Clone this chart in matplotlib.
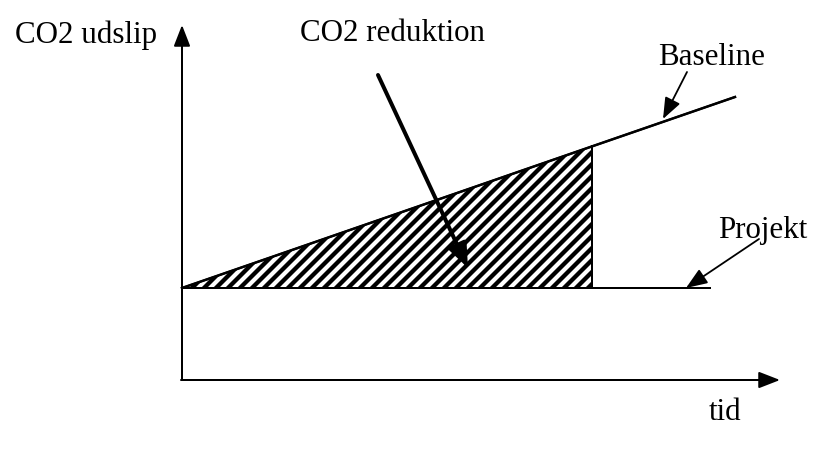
import numpy as np
import matplotlib.pyplot as plt

# diagram values (pixel-like units, y grows downwards)
origin = [182, 380]
y_axis_top = 25
x_axis_end = 780
baseline_x = [182, 735]
baseline_y = [288, 97]
projekt_x = [182, 710]
projekt_y = [288, 288]
cut_x = 592

labels = ["CO2 udslip", "CO2 reduktion", "Baseline", "Projekt", "tid"]
label_pos = [(86, 43), (393, 41), (712, 65), (763, 238), (725, 420)]
pointers = [((378, 75), (468, 268)), ((687, 72), (663, 119)), ((759, 239), (686, 288))]

plt.rcParams['font.family'] = ['Liberation Serif', 'DejaVu Serif']
plt.rcParams['hatch.linewidth'] = 4.3

fig = plt.figure(figsize=(823 / 72, 449 / 72), dpi=72)
ax = fig.add_axes([0, 0, 1, 1])
ax.set_xlim(0, 823)
ax.set_ylim(449, 0)
ax.axis('off')

# axes with arrow heads
head = dict(arrowstyle='-|>,head_length=0.9,head_width=0.35', color='black', lw=2,
            mutation_scale=20, shrinkA=0, shrinkB=0)
ax.annotate('', xy=(origin[0], y_axis_top), xytext=(origin[0], origin[1]), arrowprops=head)
ax.annotate('', xy=(x_axis_end, origin[1]), xytext=(origin[0] - 1, origin[1]), arrowprops=head)

# baseline and project lines
ax.plot(baseline_x, baseline_y, color='black', lw=2)
ax.plot(projekt_x, projekt_y, color='black', lw=2)

# reduction area
slope = (baseline_y[1] - baseline_y[0]) / (baseline_x[1] - baseline_x[0])
xs = np.array([baseline_x[0], cut_x])
top = baseline_y[0] + slope * (xs - baseline_x[0])
ax.fill_between(xs, top, projekt_y[0], facecolor='white', edgecolor='black',
                hatch='//', lw=0)
ax.plot([cut_x, cut_x], [top[1], projekt_y[0]], color='black', lw=2)
ax.plot(baseline_x, baseline_y, color='black', lw=2.5)

# labels
for txt, (x, y) in zip(labels, label_pos):
    ax.text(x, y, txt, fontsize=31, ha='center', va='baseline')

# pointer arrows
ax.annotate('', xy=pointers[0][1], xytext=pointers[0][0],
            arrowprops=dict(arrowstyle='-|>,head_length=1.0,head_width=0.4', color='black',
                            lw=4, mutation_scale=20, shrinkA=0, shrinkB=0))
for start, end in pointers[1:]:
    ax.annotate('', xy=end, xytext=start,
                arrowprops=dict(arrowstyle='-|>,head_length=0.9,head_width=0.35', color='black',
                                lw=1.8, mutation_scale=20, shrinkA=0, shrinkB=0))

fig.savefig('out.png', dpi=72)
